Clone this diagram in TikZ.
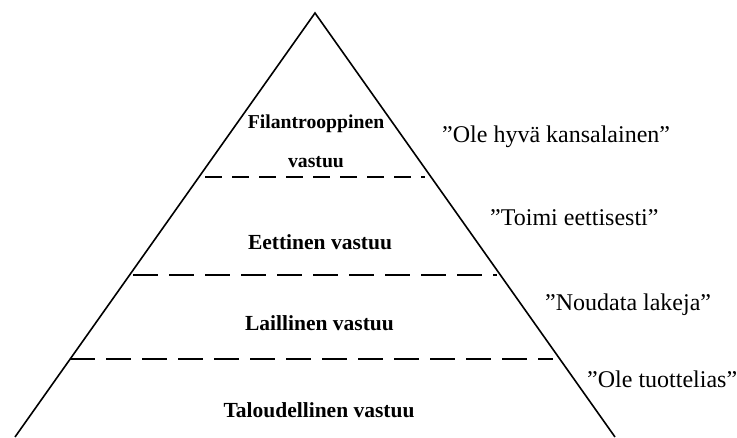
\documentclass[tikz,border=0pt]{standalone}
\usepackage{fontspec}
\setmainfont{Liberation Serif}
\begin{document}
\begin{tikzpicture}[x=1pt, y=-1pt,
		level/.style={font=\fontsize{21.5}{26}\selectfont\bfseries, anchor=base},
		motto/.style={font=\fontsize{24}{28}\selectfont, anchor=base west, inner sep=0pt},
		divider/.style={line width=1.7pt, dash pattern=on 25pt off 11pt}]
				\useasboundingbox (0,0) rectangle (737,437);

				% Pyramid
				\coordinate (top) at (315,13);
				\coordinate (bottomleft) at (15,437);
				\coordinate (bottomright) at (615,437);
				\draw[line width=1.6pt] (bottomleft) -- (top) -- (bottomright);

				% Dividers
				\draw[divider, dash pattern=on 17pt off 10pt] (205,177) -- (425,177);
				\draw[divider] (133,275) -- (497,275);
				\draw[divider] (70,359) -- (553,359);

				% Levels
				\node[level, font=\fontsize{19.7}{39}\selectfont\bfseries] (philanthropic) at (316,128) {Filantrooppinen};
				\node[level, font=\fontsize{19.7}{39}\selectfont\bfseries] (philanthropic2) at (316,167) {vastuu};
				\node[level] (ethical) at (320,249) {Eettinen vastuu};
				\node[level] (legal) at (319.5,330) {Laillinen vastuu};
				\node[level] (economic) at (319,417) {Taloudellinen vastuu};

				% Mottos
				\node[motto] (beacitizen) at (442,142) {”Ole hyvä kansalainen”};
				\node[motto] (actethically) at (490,225) {”Toimi eettisesti”};
				\node[motto] (obeylaws) at (545,310) {”Noudata lakeja”};
				\node[motto] (beproductive) at (587,387) {”Ole tuottelias”};
			\end{tikzpicture}
\end{document}
